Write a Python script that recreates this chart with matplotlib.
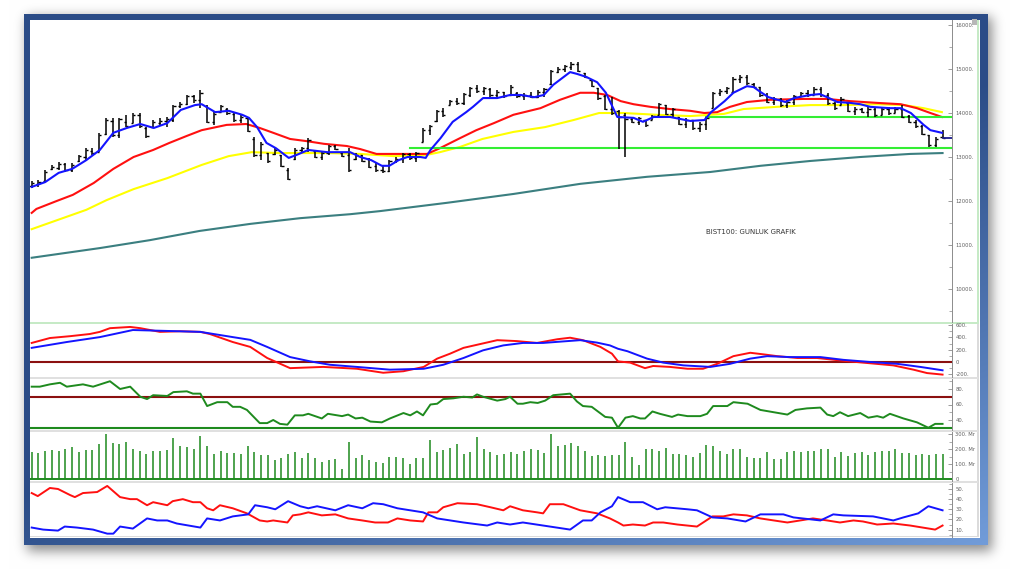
import numpy as np
import matplotlib
matplotlib.use("Agg")
import matplotlib.pyplot as plt
from matplotlib.ticker import FuncFormatter, MultipleLocator

W, H = 1011, 576

# BIST100 gunluk barlar (136 islem gunu): yuksek, dusuk, acilis, kapanis
high = [12460, 12480, 12700, 12820, 12890, 12860, 12860, 13050, 13200, 13200,
        13550, 13890, 13890, 13890, 13950, 14000, 14000, 13680, 13840, 13890,
        13910, 14180, 14250, 14410, 14410, 14520, 14180, 14020, 14180, 14110,
        14000, 13950, 13910, 13450, 13340, 13090, 13200, 13050, 12750, 13200,
        13230, 13430, 13160, 13110, 13270, 13270, 13110, 13200, 13090, 13050,
        12980, 12860, 12820, 12930, 13000, 13090, 13090, 13110, 13660, 13730,
        14070, 14110, 14300, 14340, 14460, 14590, 14640, 14590, 14570, 14520,
        14480, 14640, 14480, 14460, 14480, 14520, 14570, 14980, 15050, 15090,
        15160, 15160, 14910, 14750, 14570, 14410, 14360, 14070, 14000, 13910,
        13910, 13840, 13950, 14230, 14180, 14110, 13910, 13890, 13840, 13800,
        13910, 14480, 14550, 14590, 14820, 14860, 14860, 14680, 14590, 14460,
        14360, 14340, 14300, 14410, 14480, 14520, 14590, 14590, 14460, 14250,
        14360, 14230, 14140, 14110, 14140, 14110, 14110, 14140, 14140, 14180,
        13950, 13840, 13730, 13500, 13450, 13610]
low = [12300, 12320, 12430, 12700, 12700, 12660, 12660, 12890, 12930, 13050,
       13110, 13500, 13450, 13430, 13680, 13770, 13660, 13430, 13660, 13730,
       13680, 13800, 14110, 14180, 14230, 14110, 13770, 13730, 14020, 13950,
       13800, 13770, 13570, 13000, 12930, 12860, 13050, 12770, 12480, 12930,
       13090, 13110, 12980, 12930, 13050, 13160, 13000, 12660, 12930, 12890,
       12750, 12660, 12640, 12660, 12860, 12860, 12930, 12890, 13340, 13500,
       13800, 13910, 14180, 14180, 14180, 14360, 14460, 14410, 14360, 14340,
       14340, 14410, 14340, 14300, 14340, 14350, 14360, 14640, 14910, 14930,
       14980, 14930, 14800, 14590, 14300, 14070, 13950, 13180, 13000, 13770,
       13730, 13680, 13840, 13950, 13950, 13910, 13730, 13660, 13610, 13570,
       13610, 14110, 14390, 14430, 14460, 14680, 14640, 14570, 14360, 14230,
       14180, 14140, 14110, 14180, 14360, 14360, 14410, 14360, 14180, 14070,
       14180, 14020, 13950, 14000, 13910, 13910, 13950, 13950, 14000, 13890,
       13770, 13660, 13500, 13230, 13230, 13430]
opn = [12330, 12380, 12450, 12720, 12760, 12830, 12700, 12900, 13000, 13130,
       13120, 13520, 13820, 13500, 13800, 13780, 13950, 13650, 13680, 13780,
       13820, 13830, 14150, 14200, 14380, 14300, 14150, 13800, 14030, 14100,
       13980, 13850, 13880, 13420, 13050, 13080, 13060, 13040, 12700, 12950,
       13150, 13200, 13140, 13000, 13080, 13250, 13100, 13050, 12950, 13040,
       12950, 12800, 12700, 12680, 12900, 12950, 13060, 12980, 13350, 13620,
       13820, 14040, 14190, 14280, 14220, 14400, 14560, 14500, 14550, 14400,
       14470, 14420, 14460, 14380, 14420, 14360, 14480, 14650, 14940, 15000,
       15050, 15120, 14900, 14740, 14560, 14380, 14100, 14050, 13950, 13870,
       13800, 13830, 13850, 13960, 14180, 13980, 13900, 13760, 13830, 13650,
       13750, 14120, 14450, 14500, 14480, 14780, 14820, 14660, 14580, 14420,
       14260, 14320, 14180, 14260, 14380, 14450, 14420, 14550, 14400, 14220,
       14190, 14220, 14050, 14100, 14030, 14100, 13960, 14080, 14010, 14100,
       13930, 13800, 13700, 13500, 13280, 13450]
close = [12410, 12440, 12660, 12780, 12840, 12700, 12810, 13020, 13150, 13100,
         13500, 13850, 13500, 13860, 13700, 13950, 13700, 13470, 13800, 13820,
         13860, 14150, 14200, 14380, 14300, 14450, 13800, 13980, 14150, 14000,
         13850, 13900, 13600, 13050, 13300, 12900, 13150, 12800, 12500, 13150,
         13200, 13380, 13000, 13080, 13250, 13180, 13020, 12700, 13050, 12920,
         12780, 12700, 12680, 12900, 12950, 13060, 12980, 13080, 13620, 13700,
         14040, 13950, 14280, 14220, 14430, 14560, 14500, 14560, 14400, 14480,
         14380, 14600, 14380, 14420, 14360, 14480, 14540, 14950, 15000, 15060,
         15120, 14960, 14820, 14620, 14340, 14100, 14000, 13900, 13870, 13800,
         13880, 13720, 13930, 14200, 13980, 14080, 13760, 13850, 13650, 13750,
         13880, 14450, 14500, 14560, 14780, 14820, 14680, 14600, 14400, 14260,
         14320, 14180, 14260, 14380, 14450, 14400, 14550, 14400, 14220, 14120,
         14320, 14050, 14100, 14030, 14100, 13950, 14080, 14000, 14100, 13920,
         13800, 13700, 13520, 13280, 13420, 13430]

# islem hacmi (milyon)
volume = [178, 176, 189, 193, 189, 204, 216, 178, 193, 193,
          238, 300, 242, 233, 247, 200, 189, 165, 189, 187,
          193, 273, 220, 213, 198, 289, 220, 169, 189, 173,
          176, 171, 222, 182, 162, 162, 125, 142, 167, 178,
          144, 173, 144, 111, 127, 133, 67, 251, 138, 164,
          129, 115, 107, 147, 149, 142, 102, 140, 142, 262,
          178, 193, 211, 233, 171, 182, 282, 200, 182, 162,
          169, 184, 171, 191, 198, 193, 173, 300, 222, 231,
          244, 218, 191, 155, 162, 155, 162, 160, 251, 151,
          93, 204, 202, 191, 209, 169, 169, 164, 149, 173,
          226, 218, 189, 171, 198, 198, 147, 140, 138, 184,
          131, 135, 184, 189, 182, 191, 189, 200, 198, 149,
          182, 155, 173, 182, 162, 182, 191, 191, 204, 173,
          175, 162, 171, 160, 167, 171]

# hareketli ortalamalar (grafikten okunan noktalar)
ma_blue_x = [0, 2, 4, 6, 8.1, 10.1, 12.1, 14.1, 16.1, 18.1, 20.1, 22.1, 24.2, 25.2,
             27.2, 29.2, 31.2, 32.2, 33.4, 34.8, 36.2, 38.1, 39.3, 41, 43.8, 47.2,
             48.7, 50.3, 51.9, 53, 54.4, 55.7, 57.6, 58.4, 59.1, 60.6, 62.4, 64.4,
             65.4, 66.9, 69, 70.9, 72.5, 74.5, 75.9, 77.3, 79.8, 80.8, 82.2, 83.8,
             85.1, 86.8, 89.2, 90.6, 92.2, 94.6, 97.6, 99.7, 100.7, 102.7, 104, 106,
             107, 108, 109.2, 111.7, 113, 115.4, 116.8, 117.9, 119.4, 121.3, 122.8,
             124.3, 127.2, 128.8, 130.3, 132.2, 133.2, 134.9]
ma_blue = [12320, 12430, 12640, 12730, 12930, 13160, 13550, 13660, 13750, 13660,
           13770, 14070, 14180, 14200, 14020, 14050, 13960, 13890, 13680, 13320,
           13200, 12980, 13050, 13160, 13110, 13110, 13000, 12930, 12800, 12800,
           12930, 13000, 13000, 12980, 13160, 13430, 13800, 14020, 14140, 14340,
           14340, 14410, 14410, 14360, 14410, 14640, 14930, 14890, 14820, 14700,
           14460, 13910, 13890, 13800, 13910, 13910, 13820, 13840, 14020, 14270,
           14460, 14610, 14590, 14480, 14360, 14250, 14340, 14410, 14430, 14360,
           14250, 14230, 14200, 14140, 14110, 14110, 14000, 13730, 13610, 13550]
ma_red_x = [0, 0.7, 3.7, 6.1, 9.2, 12.1, 15.1, 18, 20.4, 23, 25.2, 28.9, 31.8, 33.8,
            35.8, 38.3, 40.8, 43.3, 46.7, 48.7, 51.1, 53.2, 55.6, 58.6, 60.5, 63.5,
            65.9, 68.5, 71.4, 75.4, 78.3, 81.3, 83.3, 85.3, 87.3, 89.2, 91.7, 94.6,
            97.6, 99.7, 101.6, 103.5, 106, 109.4, 114.4, 117.9, 121.3, 125.3, 128.8,
            131.2, 133.2, 134.9]
ma_red = [11730, 11820, 12000, 12140, 12410, 12730, 13000, 13160, 13320, 13480,
          13610, 13730, 13750, 13660, 13550, 13410, 13360, 13300, 13250, 13180,
          13070, 13070, 13070, 13070, 13200, 13430, 13610, 13770, 13960, 14110,
          14300, 14460, 14460, 14410, 14270, 14200, 14140, 14090, 14050, 14000,
          14020, 14140, 14250, 14300, 14320, 14320, 14270, 14230, 14200, 14110,
          14000, 13910]
ma_yellow_x = [0, 8.1, 11.1, 15.1, 20.1, 25.2, 29.2, 32.6, 36.7, 40.3, 43.8, 48.7,
               53.7, 58.6, 60.5, 63.5, 66.8, 71.4, 76.1, 80.3, 84.1, 87.7, 92.6,
               97.6, 102.6, 105.5, 110.4, 115.4, 120.4, 125.3, 129.3, 132.2, 134.9]
ma_yellow = [11360, 11800, 12020, 12270, 12520, 12820, 13020, 13110, 13090, 13090,
             13090, 13070, 13020, 13050, 13110, 13230, 13410, 13570, 13680, 13840,
             14000, 14000, 13960, 13930, 13980, 14090, 14140, 14180, 14180, 14200,
             14180, 14110, 14020]
ma_long_x = [0, 10.1, 17.5, 24.9, 32.4, 39.8, 47.2, 51.6, 61.6, 71.4, 81.3, 91.2,
             100.6, 108, 115.4, 122.8, 130.2, 135]
ma_long = [10710, 10930, 11110, 11320, 11480, 11610, 11700, 11770, 11960, 12160,
           12390, 12550, 12660, 12800, 12910, 13000, 13070, 13090]

# destek seviyeleri (baslangic gunu, seviye)
support_start = [56, 100]
support_level = [13200, 13900]

# MACD
macd_red_x = [0, 2.7, 5.7, 8.6, 10.1, 11.6, 14.6, 16.1, 19, 22, 25, 26.4, 29.8, 32.4,
              34.9, 38.3, 43.2, 48.2, 52.1, 55.1, 58.1, 60.1, 62, 64, 66, 69, 71.9,
              74.9, 77.9, 79.8, 81.7, 84.3, 86, 86.9, 88.7, 90.9, 92.1, 94.6, 97.2,
              99.5, 101.6, 104, 106.5, 108.4, 110.5, 113.5, 116.4, 119.4, 123.2,
              127.7, 130.7, 132.7, 135]
macd_red = [310, 390, 420, 455, 490, 550, 570, 550, 490, 500, 490, 455, 325, 245, 65,
            -100, -80, -110, -175, -150, -80, 55, 135, 230, 280, 355, 340, 310, 370,
            395, 355, 245, 135, 10, -10, -100, -65, -80, -110, -110, -30, 95, 150,
            125, 95, 65, 65, 30, -10, -55, -125, -180, -205]
macd_blue_x = [0, 5.2, 10.1, 15, 20.1, 25, 29.8, 32.4, 34.9, 38.3, 41.3, 44.2, 48.2,
               53.1, 58.1, 61, 64, 66.9, 69.9, 72.8, 75.8, 78.8, 81.3, 83.8, 85.7,
               86.9, 88.3, 91.2, 93.6, 96.6, 100.6, 103.5, 106.5, 109, 112.4, 116.9,
               120.3, 124.3, 128.3, 131.7, 135]
macd_blue = [230, 325, 405, 520, 505, 490, 405, 360, 245, 80, 10, -45, -80, -125, -110,
             -45, 65, 190, 270, 310, 310, 335, 355, 315, 270, 215, 175, 55, -10, -55,
             -80, -30, 55, 95, 80, 80, 35, 0, -30, -80, -135]

# RSI
rsi_x = [0, 1.2, 2.7, 4.2, 5.2, 7.6, 9.1, 11.6, 13.1, 14.6,
         16.1, 17.1, 18, 20.1, 21, 23, 23.9, 25, 26, 27.5,
         29, 29.8, 30.9, 31.9, 33.8, 34.9, 35.8, 36.8, 37.9, 39,
         40.2, 41, 43, 43.9, 46, 46.9, 48, 49, 50.2, 51.9,
         53.1, 55.1, 56.1, 57.1, 58, 59.1, 60.1, 61, 62.5, 64,
         65.3, 66, 66.9, 69, 70.2, 70.9, 72, 72.8, 73.9, 75,
         76.1, 77.3, 79.8, 80.8, 81.7, 83, 85, 86, 86.9, 88,
         89.1, 90.2, 90.9, 92, 93.1, 94.9, 95.8, 97.2, 99.1, 100.1,
         101, 103.1, 104, 106.1, 108, 110, 112, 113.2, 114.9, 116.9,
         117.9, 118.8, 119.8, 121, 122.8, 124, 125.3, 126.2, 127.2, 129.2,
         131.2, 132.9, 133.9, 135]
rsi = [83, 83, 86, 88, 83, 86, 83, 90, 80, 83,
       70, 67, 72, 71, 76, 77, 74, 74, 58, 63,
       63, 57, 57, 53, 36, 36, 40, 35, 34, 46,
       46, 48, 42, 48, 45, 47, 42, 43, 38, 37,
       42, 49, 46, 51, 46, 60, 61, 67, 68, 70,
       69, 73, 70, 65, 67, 70, 61, 61, 63, 62,
       65, 72, 74, 64, 58, 57, 44, 43, 30, 43,
       45, 42, 42, 51, 48, 44, 47, 45, 45, 48,
       58, 58, 63, 61, 53, 50, 47, 53, 55, 56,
       47, 45, 50, 45, 49, 43, 45, 43, 48, 42,
       37, 30, 35, 35]

# DMI
dmi_red_x = [0, 0.9, 2.7, 3.9, 5.7, 6.4, 7.6, 9.7, 11.2, 13.1,
             14.6, 15.6, 17.1, 18, 20.1, 20.9, 22.4, 23.9, 25, 26,
             26.9, 27.9, 29.8, 31.9, 33.8, 34.9, 35.8, 37.9, 38.7, 39.8,
             41, 43, 45, 46.9, 49, 50.9, 52.8, 54.2, 56.1, 58,
             58.8, 60.1, 61, 63.1, 66, 68, 69.9, 70.9, 72.8, 74.9,
             75.8, 76.8, 78.8, 81.3, 83.8, 85.7, 86.9, 87.7, 89.1, 90.9,
             92.1, 93.6, 95.7, 98.6, 100.9, 102.5, 104, 106, 108, 112,
             115.8, 117.9, 119.8, 121.8, 123.2, 125.3, 127.7, 130.2, 133.9, 135]
dmi_red = [46, 43, 51, 50, 44, 42, 46, 47, 53, 42,
           40, 40, 34, 37, 34, 38, 40, 37, 37, 31,
           29, 34, 31, 26, 19, 18, 19, 17, 24, 25,
           27, 24, 25, 21, 19, 17, 17, 21, 19, 18,
           27, 27, 32, 36, 35, 32, 29, 33, 29, 27,
           26, 35, 35, 29, 26, 21, 17, 14, 15, 14,
           17, 17, 15, 13, 23, 23, 25, 24, 21, 17,
           21, 19, 17, 19, 18, 15, 16, 14, 10, 14]
dmi_blue_x = [0, 1.7, 3.9, 4.9, 6.7, 9.1, 11.2, 12.1, 13.1, 15,
              17.1, 18.6, 20.1, 21.5, 25, 26, 27.9, 29.8, 32.1, 33.1,
              34.9, 36.1, 38, 39.8, 41, 42.3, 45, 46.9, 49, 50.6,
              52.1, 54.2, 56.1, 58, 60.1, 64, 67.5, 69, 70.9, 72.8,
              75.8, 79.8, 81.7, 83, 84.3, 86, 86.9, 88.7, 90.6, 92.7,
              93.9, 97.2, 98.6, 100.9, 103.1, 105.8, 108, 111.4, 112.9, 116.9,
              118.8, 120.3, 124.7, 127.7, 129.2, 131.4, 132.9, 135]
dmi_blue = [12, 10, 9, 13, 12, 10, 6, 6, 13, 11,
            21, 19, 19, 16, 12, 21, 19, 23, 25, 34,
            32, 30, 38, 33, 31, 33, 29, 34, 31, 36,
            35, 31, 29, 27, 21, 17, 14, 17, 15, 17,
            14, 10, 19, 19, 27, 33, 42, 37, 37, 30,
            32, 30, 29, 22, 21, 18, 25, 25, 22, 19,
            25, 24, 23, 19, 22, 26, 33, 29]

days = np.arange(len(close))
XL, XR = -0.25, 136.4

# --- arka plan: golge, mavi cerceve, beyaz alan ---
img = np.ones((H, W, 3))
yy, xx = np.mgrid[0:H, 0:W]
mask = ((xx >= 27) & (xx < 992) & (yy >= 17) & (yy < 551)).astype(float)
g = np.exp(-0.5 * (np.arange(-18, 19) / 6.0) ** 2)
g /= g.sum()
blur = np.apply_along_axis(np.convolve, 1, mask, g, mode='same')
blur = np.apply_along_axis(np.convolve, 0, blur, g, mode='same')
img *= (1 - 0.45 * blur)[..., None]

frame = (xx >= 24) & (xx < 988) & (yy >= 14) & (yy < 545)
t = np.clip((0.6 * xx / W + 0.8 * yy / H - 0.7) / 0.7, 0, 1)
dark = np.array([0.17, 0.30, 0.53])
light = np.array([0.47, 0.64, 0.88])
col = dark + (light - dark) * t[..., None]
img[frame] = col[frame]
img[(xx >= 30) & (xx < 980) & (yy >= 20) & (yy < 538)] = 1.0

img[322:324, 30:979] = [0.78, 0.92, 0.78]
img[20:323, 977:979] = [0.78, 0.92, 0.78]
img[324:537, 977:979] = 0.86
for r in (377, 430, 481):
    img[r:r + 2, 30:978] = 0.88
img[536, 30:978] = 0.86
img[19:25, 972:977] = 0.72

fig = plt.figure(figsize=(W / 100, H / 100), dpi=100)
bg = fig.add_axes([0, 0, 1, 1])
bg.imshow(img, extent=(0, W, H, 0), aspect='auto', interpolation='nearest')
bg.set_xlim(0, W)
bg.set_ylim(H, 0)
bg.axis('off')


def fmt(v, pos):
    return "0" if abs(v) < 1e-9 else f"{v:.0f}."


def fmt_mr(v, pos):
    return "0" if abs(v) < 1e-9 else f"{v:.0f}. Mr"


def panel(top, bottom, ylim, ticks, minor, formatter=fmt):
    ax = fig.add_axes([30 / W, 1 - bottom / H, 922 / W, (bottom - top) / H])
    ax.set_facecolor('none')
    for s in ['left', 'top', 'bottom']:
        ax.spines[s].set_visible(False)
    ax.spines['right'].set_color('#8c8c8c')
    ax.spines['right'].set_linewidth(0.7)
    ax.yaxis.tick_right()
    ax.set_xticks([])
    ax.set_xlim(XL, XR)
    ax.set_ylim(*ylim)
    ax.set_yticks(ticks)
    ax.yaxis.set_minor_locator(MultipleLocator(minor))
    ax.yaxis.set_major_formatter(FuncFormatter(formatter))
    ax.tick_params(axis='y', which='both', direction='in', colors='#8c8c8c',
                   labelcolor='#606060', labelsize=3.8, pad=2.5)
    ax.tick_params(axis='y', which='major', length=3, width=0.6)
    ax.tick_params(axis='y', which='minor', length=2, width=0.5)
    return ax


# ana grafik
ax = panel(20, 322, (9250, 16114), list(range(10000, 16001, 1000)), 500)
ax.plot(ma_long_x, ma_long, color='#3b7f80', lw=1.5, zorder=2)
ax.plot(ma_yellow_x, ma_yellow, color='#ffff00', lw=1.5, zorder=2)
ax.plot(ma_red_x, ma_red, color='#ff1010', lw=1.5, zorder=2)
for s0, lv in zip(support_start, support_level):
    ax.plot([s0, XR], [lv, lv], color='#33ee33', lw=1.5, zorder=2)
ax.vlines(days, low, high, color='black', lw=1.1, zorder=3)
ax.hlines(opn, days - 0.33, days, color='black', lw=1.0, zorder=3)
ax.hlines(close, days, days + 0.33, color='black', lw=1.0, zorder=3)
ax.plot(ma_blue_x, ma_blue, color='#1414ff', lw=1.5, zorder=4)
ax.plot([days[-1], XR], [close[-1], close[-1]], color='#1c1c8c', lw=1.3, zorder=4)
ax.text(100, 11295, "BIST100: GUNLUK GRAFIK", fontsize=5, color='#333333',
        ha='left', va='center')

# MACD
ax1 = panel(324, 377, (-244, 618), [-200, 0, 200, 400, 600], 100)
ax1.axhline(0, color='#8b1010', lw=1.5)
ax1.plot(macd_red_x, macd_red, color='#ff1010', lw=1.4)
ax1.plot(macd_blue_x, macd_blue, color='#1414ff', lw=1.4)

# RSI
ax2 = panel(379, 430, (27.1, 92.9), [40, 60, 80], 10)
ax2.axhline(70, color='#8b1010', lw=1.5)
ax2.axhline(30, color='#1e8a1e', lw=1.5)
ax2.plot(rsi_x, rsi, color='#1e8a1e', lw=1.4)

# hacim
ax3 = panel(432, 481, (-13, 315), [0, 100, 200, 300], 50, fmt_mr)
ax3.vlines(days, 0, volume, color='#1e8a1e', lw=1.1)
ax3.axhline(0, color='#1e8a1e', lw=1.4)

# DMI
ax4 = panel(483, 537, (2.7, 55.9), [10, 20, 30, 40, 50], 5)
ax4.plot(dmi_red_x, dmi_red, color='#ff1010', lw=1.4)
ax4.plot(dmi_blue_x, dmi_blue, color='#1414ff', lw=1.4)

fig.savefig("out.png", dpi=100)
